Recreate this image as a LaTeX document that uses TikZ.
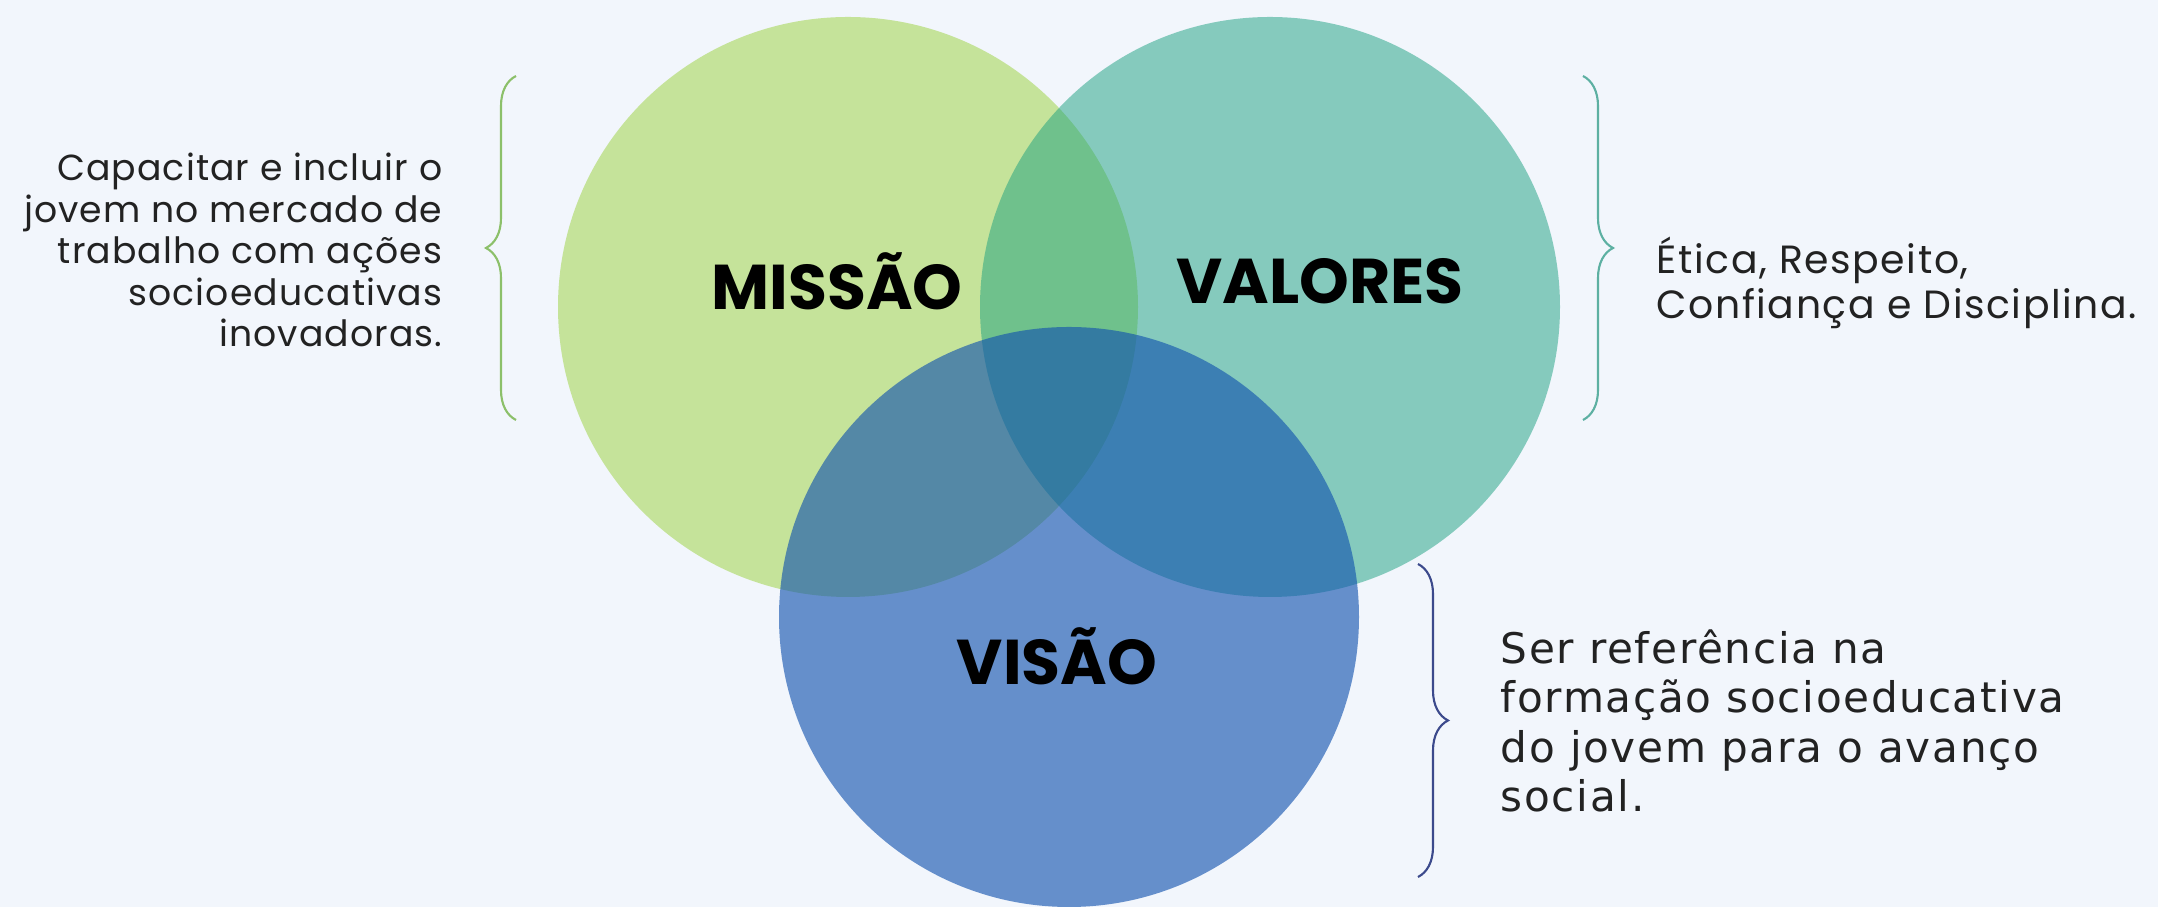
\documentclass[tikz,border=0pt]{standalone}
\usepackage{fontspec}
\setmainfont{Poppins}
\newfontfamily\sidefont{Poppins}[LetterSpace=3]
\newfontfamily\valfont{Poppins}[LetterSpace=4]
\newfontfamily\bodyfont{DejaVu Sans}[LetterSpace=4]
\usetikzlibrary{decorations.pathreplacing}
\definecolor{bgblue}{HTML}{F2F6FC}
\definecolor{misgreen}{HTML}{C5E39A}
\definecolor{valteal}{RGB}{26,160,128}
\definecolor{visblue}{RGB}{16,81,174}
\definecolor{bracegreen}{HTML}{8CC06A}
\definecolor{braceteal}{HTML}{5DB0A2}
\definecolor{braceblue}{HTML}{3C4A8C}
\definecolor{inkgray}{HTML}{222222}

\begin{document}
\begin{tikzpicture}[
  title/.style={font=\fontsize{18}{21}\selectfont\bfseries, text=black},
  side/.style={text=inkgray, inner sep=0},
  curly/.style={decorate, decoration={brace, amplitude=0.3cm}, line width=0.6pt}]
\fill[bgblue] (0,0) rectangle (21.58,9.07);
% the three circles
\fill[misgreen] (8.48,6.00) circle (2.9);
\fill[valteal, fill opacity=.5] (12.70,6.00) circle (2.9);
\fill[visblue, fill opacity=.62] (10.69,2.90) circle (2.9);
\node[title] (mis) at (8.37,6.26) {MISSÃO};
\node[title] (val) at (13.20,6.26) {VALORES};
\node[title] (vis) at (10.57,2.51) {VISÃO};
% braces and texts
\draw[curly, bracegreen] (5.16,4.87) -- (5.16,8.31);
\draw[curly, braceteal] (15.83,8.31) -- (15.83,4.87);
\draw[curly, braceblue] (14.18,3.43) -- (14.18,0.30);
\node[side, anchor=east, align=right, font=\sidefont\fontsize{10.3}{11.8}\selectfont] (mistext) at (4.43,6.57)
  {Capacitar e incluir o\\jovem no mercado de\\trabalho com ações\\socioeducativas\\inovadoras.};
\node[side, anchor=west, align=left, font=\valfont\fontsize{11.2}{12.6}\selectfont] (valtext) at (16.56,6.24)
  {Ética, Respeito,\\Confiança e Disciplina.};
\node[side, anchor=west, align=left, font=\bodyfont\fontsize{12}{14}\selectfont] (vistext) at (15.00,1.86)
  {Ser referência na\\formação socioeducativa\\do jovem para o avanço\\social.};
\end{tikzpicture}
\end{document}
